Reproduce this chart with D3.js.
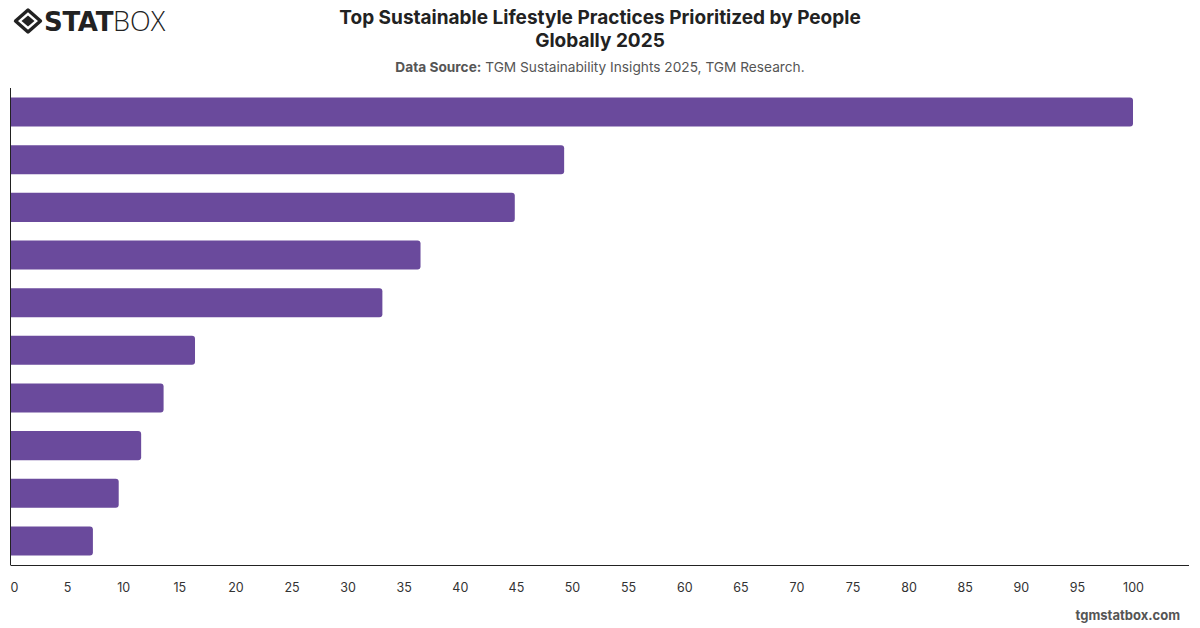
<!DOCTYPE html>
<html>
<head>
<meta charset="utf-8">
<title>Top Sustainable Lifestyle Practices 2025</title>
<script src="https://cdn.jsdelivr.net/npm/d3@7"></script>
<style>
    body { margin: 0; background: #fff; }
    svg { display: block; font-family: Inter, "Open Sans", sans-serif; }
</style>
</head>
<body>
<div id="chart"></div>
<script>

// category names are not printed in the chart, kept only as keys
var categories = [
    "Reducing single-use plastics",
    "Recycling household waste",
    "Saving energy at home",
    "Reducing food waste",
    "Conserving water",
    "Buying local products",
    "Using public transport",
    "Buying second-hand",
    "Eating less meat",
    "Using reusable bags"
];
var values = [100, 49.3, 44.9, 36.5, 33.1, 16.4, 13.6, 11.6, 9.6, 7.3];
var tickValues = d3.range(0, 101, 5);

var titleLines = ["Top Sustainable Lifestyle Practices Prioritized by People", "Globally 2025"];
var sourceLabel = "Data Source:";
var sourceText = " TGM Sustainability Insights 2025, TGM Research.";

var width = 1200, height = 628;
var data = categories.map(function(c, i) { return { name: c, value: values[i] }; });

var svg = d3.select("#chart").append("svg")
    .attr("width", width)
    .attr("height", height);

// logo
var logo = svg.append("g").attr("transform", "translate(28,21)");
logo.append("path")
    .attr("d", "M0,-11 L12.5,0 L0,11 L-12.5,0 Z")
    .attr("fill", "none").attr("stroke", "#222").attr("stroke-width", 3.4)
    .attr("stroke-linejoin", "round");
logo.append("path")
    .attr("d", "M0,-5.5 L6.5,0 L0,5.5 L-6.5,0 Z")
    .attr("fill", "#222");
svg.append("text")
    .attr("x", 44).attr("y", 31)
    .attr("font-family", "'DejaVu Sans', sans-serif")
    .attr("font-size", 26)
    .attr("fill", "#222")
    .call(function(t) {
        t.append("tspan").attr("font-weight", 900).attr("letter-spacing", -0.3).text("STAT");
        t.append("tspan").attr("font-weight", 300).attr("font-family", "'Open Sans', sans-serif")
            .attr("font-size", 27).text("BOX");
    });

// title
svg.append("g").selectAll("text")
    .data(titleLines)
    .join("text")
    .attr("x", 600)
    .attr("y", function(d, i) { return 24 + i * 23; })
    .attr("text-anchor", "middle")
    .attr("font-size", 19)
    .attr("font-weight", 700)
    .attr("fill", "#222")
    .text(function(d) { return d; });

var sub = svg.append("text")
    .attr("x", 600).attr("y", 72)
    .attr("text-anchor", "middle")
    .attr("font-size", 13.7)
    .attr("fill", "#555");
sub.append("tspan").attr("font-weight", 700).text(sourceLabel);
sub.append("tspan").text(sourceText);

// scales
var x = d3.scaleLinear().domain([0, 100]).range([11, 1133]);
var y = d3.scaleBand()
    .domain(categories)
    .range([88, 565])
    .paddingInner(0.39)
    .paddingOuter(0.2);

// bars with rounded right end
var r = 3;
svg.append("g").selectAll("path")
    .data(data)
    .join("path")
    .attr("fill", "#6a4a9c")
    .attr("d", function(d) {
        var x0 = x(0), x1 = x(d.value), y0 = y(d.name), h = y.bandwidth();
        return "M" + x0 + "," + y0 +
            "H" + (x1 - r) +
            "Q" + x1 + "," + y0 + " " + x1 + "," + (y0 + r) +
            "V" + (y0 + h - r) +
            "Q" + x1 + "," + (y0 + h) + " " + (x1 - r) + "," + (y0 + h) +
            "H" + x0 + "Z";
    });

// axes lines
svg.append("line")
    .attr("x1", 10.5).attr("x2", 10.5)
    .attr("y1", 88).attr("y2", 565)
    .attr("stroke", "#222").attr("stroke-width", 1);
svg.append("line")
    .attr("x1", 10.5).attr("x2", 1189)
    .attr("y1", 565.5).attr("y2", 565.5)
    .attr("stroke", "#222").attr("stroke-width", 1);

// x tick labels
var xAxis = svg.append("g")
    .attr("transform", "translate(0,575)")
    .call(d3.axisBottom(x).tickValues(tickValues).tickSize(0).tickPadding(8));
xAxis.select(".domain").remove();
xAxis.selectAll("text")
    .attr("font-family", "Inter, 'Open Sans', sans-serif")
    .attr("font-size", 12.5)
    .attr("fill", "#333");
xAxis.selectAll(".tick").filter(function(d) { return d === 0; })
    .select("text").attr("dx", 3);

// footer
svg.append("text")
    .attr("x", 1180).attr("y", 620)
    .attr("text-anchor", "end")
    .attr("font-size", 13)
    .attr("font-weight", 700)
    .attr("fill", "#555")
    .text("tgmstatbox.com");

</script>
</body>
</html>
